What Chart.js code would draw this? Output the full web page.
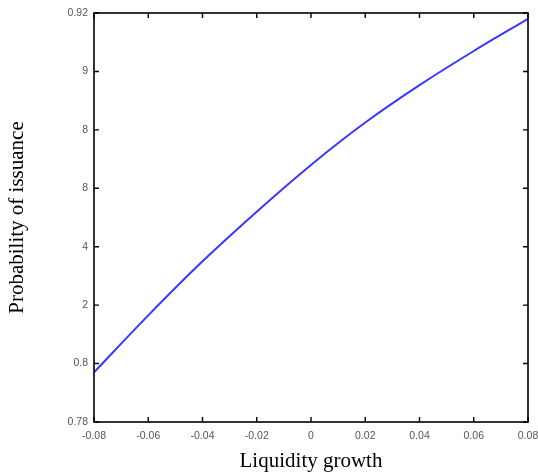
<!DOCTYPE html>
<html>
<head>
<meta charset="utf-8">
<script src="https://cdn.jsdelivr.net/npm/chart.js@4.4.0/dist/chart.umd.min.js"></script>
<style>
  html, body { margin: 0; padding: 0; background: #fff; }
  #wrap { width: 538px; height: 472px; position: relative; }
</style>
</head>
<body>
<div id="wrap"><canvas id="issuance-chart"></canvas></div>
<script>
// values
var liquidityGrowth = [-0.08, -0.06, -0.04, -0.02, 0, 0.02, 0.04, 0.06, 0.08];
var issuanceProb    = [0.797, 0.8165, 0.835, 0.852, 0.868, 0.8825, 0.8953, 0.907, 0.918];

var xTickValues = [-0.08, -0.06, -0.04, -0.02, 0, 0.02, 0.04, 0.06, 0.08];
var xTickLabels = ['-0.08', '-0.06', '-0.04', '-0.02', '0', '0.02', '0.04', '0.06', '0.08'];
var yTickValues = [0.78, 0.8, 0.82, 0.84, 0.86, 0.88, 0.9, 0.92];
var yTickLabels = ['0.78', '0.8', '2', '4', '8', '8', '9', '0.92'];

function labelFor(values, labels, v){
  for (var i = 0; i < values.length; i++) {
    if (Math.abs(values[i] - v) < 1e-6) return labels[i];
  }
  return '';
}

// box around the plot + inward tick marks on all four sides
var frame = {
  id: 'frame',
  afterDraw: function(chart){
    var ctx = chart.ctx, a = chart.chartArea;
    var xs = chart.scales.x, ys = chart.scales.y;
    var len = 5;
    ctx.save();
    ctx.strokeStyle = '#000';
    ctx.lineWidth = 1.6;
    ctx.strokeRect(a.left, a.top, a.right - a.left, a.bottom - a.top);
    ctx.lineWidth = 1.4;
    ctx.beginPath();
    xTickValues.forEach(function(v){
      var px = xs.getPixelForValue(v);
      ctx.moveTo(px, a.bottom); ctx.lineTo(px, a.bottom - len);
      ctx.moveTo(px, a.top);    ctx.lineTo(px, a.top + len);
    });
    yTickValues.forEach(function(v){
      var py = ys.getPixelForValue(v);
      ctx.moveTo(a.left, py);  ctx.lineTo(a.left + len, py);
      ctx.moveTo(a.right, py); ctx.lineTo(a.right - len, py);
    });
    ctx.stroke();
    ctx.restore();
  }
};

var points = liquidityGrowth.map(function(x, i){ return {x: x, y: issuanceProb[i]}; });

var ctx = document.getElementById('issuance-chart');
var issuanceChart = new Chart(ctx, {
  type: 'line',
  data: {
    datasets: [{
      data: points,
      borderColor: 'rgb(55,55,255)',
      borderWidth: 2,
      pointRadius: 0,
      fill: false,
      cubicInterpolationMode: 'monotone'
    }]
  },
  options: {
    responsive: true,
    maintainAspectRatio: false,
    animation: false,
    layout: { padding: { left: 5, right: 0, top: 13, bottom: 0 } },
    plugins: { legend: { display: false }, tooltip: { enabled: false } },
    scales: {
      x: {
        type: 'linear',
        min: -0.08,
        max: 0.08,
        afterBuildTicks: function(scale){
          scale.ticks = xTickValues.map(function(v){ return {value: v}; });
        },
        afterFit: function(scale){
          scale.height = 50;
          scale.paddingRight = 10;
        },
        grid: { display: false, drawTicks: false },
        border: { display: false },
        ticks: {
          padding: 8,
          color: '#555',
          font: { family: 'Liberation Sans', size: 10.5 },
          maxRotation: 0,
          callback: function(v){ return labelFor(xTickValues, xTickLabels, v); }
        },
        title: {
          display: true,
          text: 'Liquidity growth',
          color: '#000',
          font: { family: 'Liberation Serif', size: 21, lineHeight: 1.0 },
          padding: { top: 0, bottom: 0 }
        }
      },
      y: {
        min: 0.78,
        max: 0.92,
        afterBuildTicks: function(scale){
          scale.ticks = yTickValues.map(function(v){ return {value: v}; });
        },
        afterFit: function(scale){ scale.width = 89; },
        grid: { display: false, drawTicks: false },
        border: { display: false },
        ticks: {
          padding: 6,
          color: '#555',
          font: { family: 'Liberation Sans', size: 10.5 },
          callback: function(v){ return labelFor(yTickValues, yTickLabels, v); }
        },
        title: {
          display: true,
          text: 'Probability of issuance',
          color: '#000',
          font: { family: 'Liberation Serif', size: 21 },
          padding: { top: 0, bottom: 0 }
        }
      }
    }
  },
  plugins: [frame]
});
</script>
</body>
</html>
